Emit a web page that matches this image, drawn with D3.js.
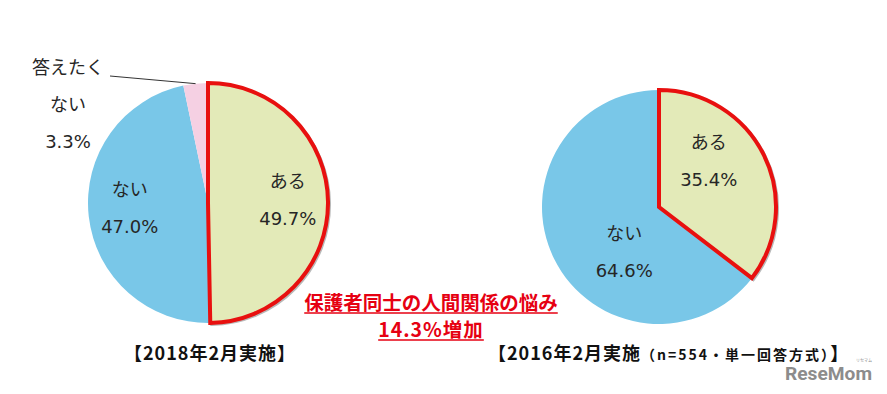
<!DOCTYPE html>
<html lang="ja">
<head>
<meta charset="utf-8">
<title>保護者同士の人間関係の悩み</title>
<script src="https://cdn.jsdelivr.net/npm/d3@7"></script>
<style>
  body { margin: 0; background: #fff; }
  svg { display: block; }
  .lbl { font-family: "DejaVu Sans", "Noto Sans CJK JP", sans-serif; font-size: 18px; fill: #262626; }
  .cap { font-family: "Noto Sans CJK JP", sans-serif; font-weight: bold; fill: #111; }
  .note { font-family: "Noto Sans CJK JP", sans-serif; font-weight: bold; fill: #e60012; font-size: 19.5px; }
</style>
</head>
<body>
<div id="chart"></div>
<script>
// data
var cats2018 = ["ある", "ない", "答えたくない"];
var vals2018 = [49.7, 47.0, 3.3];
var cats2016 = ["ある", "ない"];
var vals2016 = [35.4, 64.6];
var colors = { "ある": "#e3eab8", "ない": "#79c7e8", "答えたくない": "#f5d0e3" };

var W = 887, H = 394;
var svg = d3.select("#chart").append("svg")
    .attr("width", W).attr("height", H);
svg.append("rect").attr("width", W).attr("height", H).attr("fill", "#fff");

var pie = d3.pie().sort(null).value(function(d) { return d; });

function drawPie(cx, cy, r, cats, vals, labelNudge) {
    var g = svg.append("g").attr("transform", "translate(" + cx + "," + cy + ")");
    var arcs = pie(vals);
    arcs.forEach(function(a, i) { a.cat = cats[i]; });
    var arc = d3.arc().innerRadius(0).outerRadius(r);

    // regular slices first, highlighted "ある" on top
    g.selectAll("path.s")
        .data(arcs.filter(function(a) { return a.cat != "ある"; }))
        .enter().append("path")
        .attr("class", "s")
        .attr("d", arc)
        .attr("fill", function(a) { return colors[a.cat]; });

    var hi = arcs.filter(function(a) { return a.cat == "ある"; });
    // faint shadow along the edge
    g.selectAll("path.sh").data(hi).enter().append("path")
        .attr("d", arc)
        .attr("transform", "translate(1.5,1.5)")
        .attr("fill", "none")
        .attr("stroke", "#b9b9b9")
        .attr("stroke-width", 3);
    g.selectAll("path.h").data(hi).enter().append("path")
        .attr("class", "h")
        .attr("d", arc)
        .attr("fill", colors["ある"])
        .attr("stroke", "#e8100f")
        .attr("stroke-width", 4)
        .attr("stroke-linejoin", "miter");

    // labels inside (small slice gets an outside label)
    arcs.forEach(function(a, i) {
        var n = labelNudge[i];
        if (a.data < 10) {
            var mid = (a.startAngle + a.endAngle) / 2;
            var ex = r * Math.sin(mid), ey = -r * Math.cos(mid);
            g.append("line")
                .attr("x1", n[0] + 42).attr("y1", n[1] + 8)
                .attr("x2", ex).attr("y2", ey)
                .attr("stroke", "#333").attr("stroke-width", 1);
            var t = g.append("text").attr("class", "lbl").attr("text-anchor", "middle");
            ["答えたく", "ない", d3.format(".1f")(a.data) + "%"].forEach(function(s, k) {
                t.append("tspan").attr("x", n[0]).attr("y", n[1] + k * 37)
                    .attr("dy", "0.35em").text(s);
            });
            return;
        }
        var c = d3.arc().innerRadius(0).outerRadius(r * 1.33).centroid(a);
        var t = g.append("text").attr("class", "lbl").attr("text-anchor", "middle");
        t.append("tspan").attr("x", c[0] + n[0]).attr("y", c[1] + n[1] - 18)
            .attr("dy", "0.35em").text(a.cat);
        t.append("tspan").attr("x", c[0] + n[0]).attr("y", c[1] + n[1] + 19)
            .attr("dy", "0.35em").text(d3.format(".1f")(a.data) + "%");
    });
}

drawPie(208, 203, 120, cats2018, vals2018, [[0, -3], [1, -4], [-140, -135]]);
drawPie(659, 207, 117, cats2016, vals2016, [[-20, -12], [35, 10]]);

// red note in the middle
var note = svg.append("g");
["保護者同士の人間関係の悩み", "14.3%増加"].forEach(function(s, k) {
    var t = note.append("text").attr("class", "note")
        .attr("x", 431).attr("y", 303 + k * 27)
        .attr("dy", "0.35em")
        .attr("text-anchor", "middle").text(s);
    if (k == 1) t.attr("letter-spacing", 1);
    var w = t.node().getComputedTextLength();
    note.append("line")
        .attr("x1", 431 - w / 2).attr("x2", 431 + w / 2)
        .attr("y1", 313 + k * 27).attr("y2", 313 + k * 27)
        .attr("stroke", "#e60012").attr("stroke-width", 1.5);
});

// captions
svg.append("text").attr("class", "cap").attr("x", 124).attr("y", 354)
    .attr("dy", "0.35em").attr("letter-spacing", 1)
    .style("font-size", "18px").text("【2018年2月実施】");
var cap2 = svg.append("text").attr("class", "cap").attr("x", 488).attr("y", 354)
    .attr("dy", "0.35em").attr("letter-spacing", 1).style("font-size", "18px");
cap2.append("tspan").text("【2016年2月実施");
cap2.append("tspan").style("font-size", "14px").attr("letter-spacing", 2).text("（n=554・単一回答方式）");
cap2.append("tspan").attr("letter-spacing", 1).text("】");

// logo
svg.append("text").attr("x", 785).attr("y", 380)
    .attr("textLength", 87).attr("lengthAdjust", "spacingAndGlyphs")
    .style("font-family", "'Liberation Sans Narrow', 'Roboto', sans-serif")
    .style("font-weight", "bold").style("font-size", "18px")
    .attr("fill", "#8c8c8c").text("ReseMom");
svg.append("text").attr("x", 864).attr("y", 362)
    .attr("text-anchor", "middle")
    .style("font-family", "'Noto Sans CJK JP', sans-serif")
    .style("font-size", "4px").attr("fill", "#8c8c8c").text("リセマム");
</script>
</body>
</html>
